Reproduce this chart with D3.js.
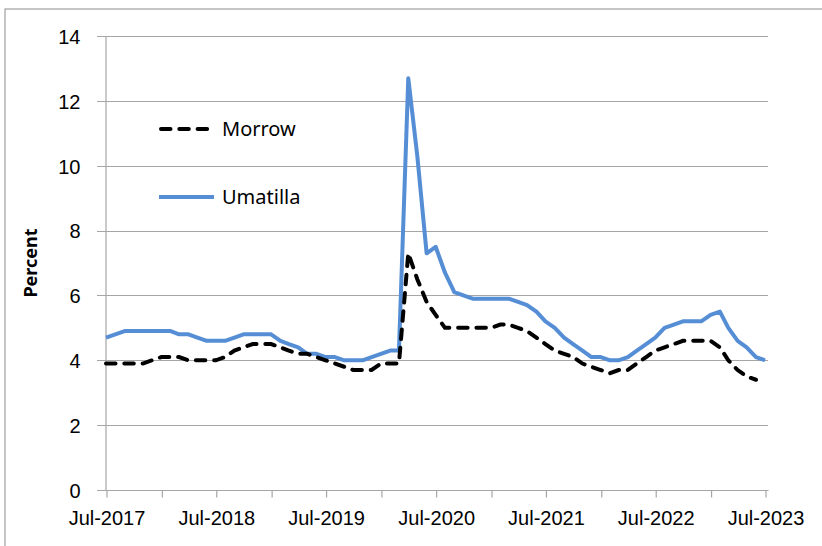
<!DOCTYPE html>
<html>
<head>
<meta charset="utf-8">
<script src="https://cdn.jsdelivr.net/npm/d3@7"></script>
<style>
  body { margin: 0; background: #fff; }
  svg { display: block; font-family: "Noto Sans", "Open Sans", sans-serif; }
</style>
</head>
<body>
<svg id="drawing_region"></svg>
<script>
// monthly, Jul-2017 .. Jul-2023
const months = d3.timeMonth.range(new Date(2017, 6, 1), new Date(2023, 7, 1));

const umatilla = [
  4.7, 4.8, 4.9, 4.9, 4.9, 4.9, 4.9, 4.9, 4.8, 4.8,
  4.7, 4.6, 4.6, 4.6, 4.7, 4.8, 4.8, 4.8, 4.8, 4.6,
  4.5, 4.4, 4.2, 4.2, 4.1, 4.1, 4.0, 4.0, 4.0, 4.1,
  4.2, 4.3, 4.3, 12.7, 10.3, 7.3, 7.5, 6.7, 6.1, 6.0,
  5.9, 5.9, 5.9, 5.9, 5.9, 5.8, 5.7, 5.5, 5.2, 5.0,
  4.7, 4.5, 4.3, 4.1, 4.1, 4.0, 4.0, 4.1, 4.3, 4.5,
  4.7, 5.0, 5.1, 5.2, 5.2, 5.2, 5.4, 5.5, 5.0, 4.6,
  4.4, 4.1, 4.0
];

// Morrow has no value for the last month
const morrow = [
  3.9, 3.9, 3.9, 3.9, 3.9, 4.0, 4.1, 4.1, 4.1, 4.0,
  4.0, 4.0, 4.0, 4.1, 4.3, 4.4, 4.5, 4.5, 4.5, 4.4,
  4.3, 4.2, 4.2, 4.1, 4.0, 3.9, 3.8, 3.7, 3.7, 3.7,
  3.9, 3.9, 3.9, 7.3, 6.5, 5.8, 5.4, 5.0, 5.0, 5.0,
  5.0, 5.0, 5.0, 5.1, 5.1, 5.0, 4.9, 4.7, 4.5, 4.3,
  4.2, 4.1, 3.9, 3.8, 3.7, 3.6, 3.7, 3.7, 3.9, 4.1,
  4.3, 4.4, 4.5, 4.6, 4.6, 4.6, 4.6, 4.4, 4.0, 3.7,
  3.5, 3.4
];

const yTicks = [0, 2, 4, 6, 8, 10, 12, 14];
const seriesNames = ["Morrow", "Umatilla"];

const config = {
  width: 822,
  height: 546,
  left: 106, right: 765,
  top: 36, bottom: 490
};

const svg = d3.select('#drawing_region')
  .attr('width', config.width)
  .attr('height', config.height);

// outer frame (only top and left edges are inside the picture)
svg.append('rect')
  .attr('x', 5).attr('y', 9)
  .attr('width', 900).attr('height', 700)
  .attr('fill', 'none')
  .attr('stroke', '#8c8c8c')
  .attr('stroke-width', 1);

const xscale = d3.scaleTime()
  .domain([months[0], months[months.length - 1]])
  .range([config.left, config.right]);

const yscale = d3.scaleLinear()
  .domain([0, 14])
  .range([config.bottom, config.top]);

const axisX0 = config.left - 1;
const axisX1 = config.right + 3;

// horizontal gridlines, reaching past the axis as tick marks
svg.append('g')
  .selectAll('line')
  .data(yTicks)
  .join('line')
  .attr('x1', axisX0 - 8)
  .attr('x2', axisX1)
  .attr('y1', d => Math.round(yscale(d)) + 0.5)
  .attr('y2', d => Math.round(yscale(d)) + 0.5)
  .attr('stroke', '#a6a6a6')
  .attr('stroke-width', 1.2);

// y axis
const yaxis = d3.axisLeft(yscale)
  .tickValues(yTicks)
  .tickSize(0)
  .tickPadding(25)
  .tickFormat(d3.format('d'));

const gy = svg.append('g')
  .attr('transform', `translate(${axisX0 + 0.5}, 0.5)`)
  .call(yaxis);
gy.select('.domain').attr('stroke', '#a6a6a6').attr('stroke-width', 1.2);
gy.selectAll('text')
  .attr('font-size', 20)
  .attr('fill', '#000')
  .attr('dy', '0.34em');

// x axis
const xaxis = d3.axisBottom(xscale)
  .ticks(d3.timeMonth.every(6))
  .tickSizeInner(7)
  .tickSizeOuter(0)
  .tickPadding(13)
  .tickFormat(d => d.getMonth() === 6 ? d3.timeFormat('%b-%Y')(d) : '');

const gx = svg.append('g')
  .attr('transform', `translate(0.5, ${Math.round(config.bottom) + 0.5})`)
  .call(xaxis);
gx.select('.domain')
  .attr('d', `M${axisX0 - 0.5},0H${axisX1}`)
  .attr('stroke', '#a6a6a6').attr('stroke-width', 1.2);
gx.selectAll('.tick line').attr('stroke', '#a6a6a6').attr('stroke-width', 1.2);
gx.selectAll('text')
  .attr('font-size', 20)
  .attr('fill', '#000');

// y axis title
svg.append('text')
  .attr('transform', `translate(37, ${(config.top + config.bottom) / 2}) rotate(-90)`)
  .attr('text-anchor', 'middle')
  .attr('font-size', 18)
  .attr('font-weight', 'bold')
  .attr('fill', '#000')
  .text('Percent');

// lines
const line = d3.line()
  .x((d, i) => xscale(months[i]))
  .y(d => yscale(d));

svg.append('path')
  .datum(umatilla)
  .attr('d', line)
  .attr('fill', 'none')
  .attr('stroke', '#558ed5')
  .attr('stroke-width', 4)
  .attr('stroke-linejoin', 'round');

svg.append('path')
  .datum(morrow)
  .attr('d', line)
  .attr('fill', 'none')
  .attr('stroke', '#000')
  .attr('stroke-width', 4)
  .attr('stroke-linecap', 'round')
  .attr('stroke-dasharray', '9.5,8.8');

// legend
const legend = svg.append('g');
const legendY = [129, 197];

legend.append('line')
  .attr('x1', 161).attr('x2', 210)
  .attr('y1', legendY[0]).attr('y2', legendY[0])
  .attr('stroke', '#000')
  .attr('stroke-width', 4)
  .attr('stroke-linecap', 'round')
  .attr('stroke-dasharray', '9.5,8.8');

legend.append('line')
  .attr('x1', 159).attr('x2', 214)
  .attr('y1', legendY[1]).attr('y2', legendY[1])
  .attr('stroke', '#558ed5')
  .attr('stroke-width', 4);

legend.selectAll('text')
  .data(seriesNames)
  .join('text')
  .attr('x', 222)
  .attr('y', (d, i) => legendY[i])
  .attr('dy', '0.35em')
  .attr('font-size', 20)
  .attr('fill', '#000')
  .text(d => d);
</script>
</body>
</html>
